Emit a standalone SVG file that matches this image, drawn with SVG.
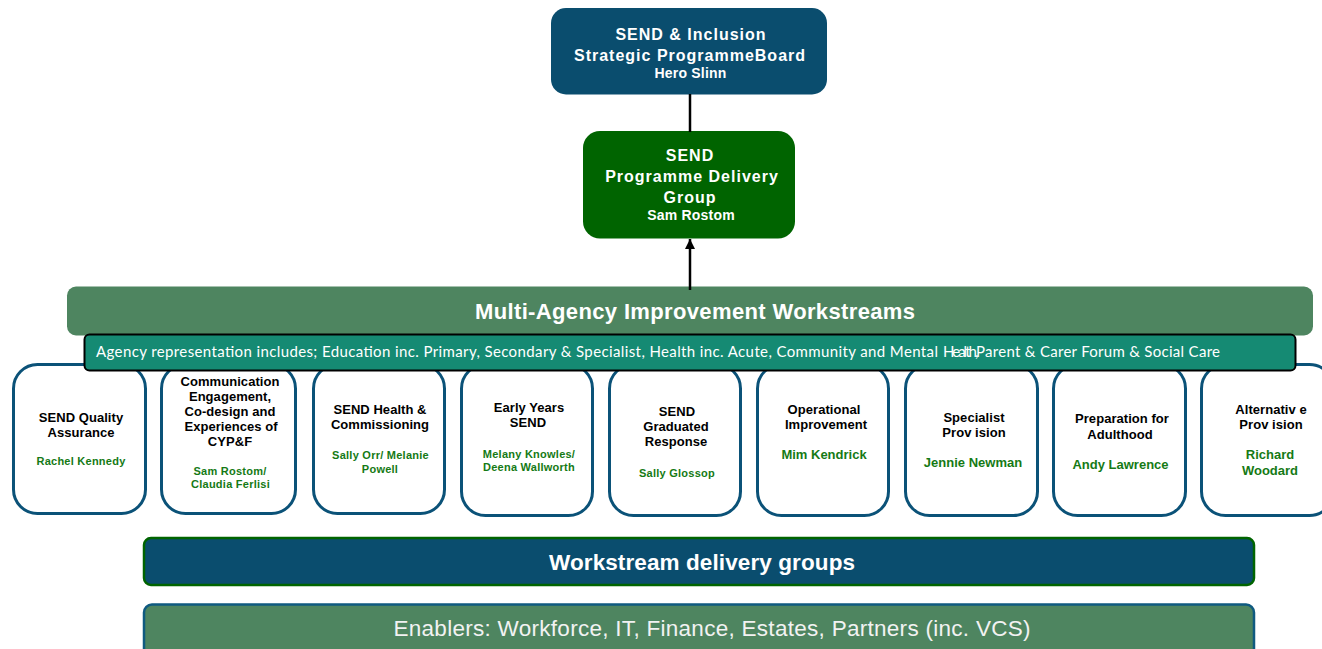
<svg xmlns="http://www.w3.org/2000/svg" width="1322" height="649" viewBox="0 0 1322 649">
<style>
text{font-family:"Liberation Sans",Arial,sans-serif;text-anchor:middle}
.w{fill:#fff;font-weight:700}
.h{font-size:16px;letter-spacing:1px}
.n{font-size:14px;letter-spacing:.2px}
.card{fill:#fff;stroke:#0b5278;stroke-width:3}
.t{fill:#000;font-weight:700;font-size:13px;letter-spacing:.05px}
.g{fill:#157a15;font-weight:700}
.s{font-size:11px;letter-spacing:.25px}
.m{font-size:13px}
.l{stroke:#000;stroke-width:2.5;fill:none}
.a{font-family:Lato,"Noto Sans",sans-serif;text-anchor:start;fill:#fff;font-size:15px}
</style>
<defs><marker id="arrow" markerUnits="userSpaceOnUse" markerWidth="10" markerHeight="10" refX="10" refY="5" orient="auto"><path d="M0 0L10 5L0 10z" fill="#000"/></marker></defs>
<g id="board"><rect x="551" y="8" width="276" height="86.500" rx="15" fill="#0a4d6e"/>
<text class="w h" x="691" y="40">SEND &amp; Inclusion</text>
<text class="w h" x="690" y="61">Strategic ProgrammeBoard</text>
<text class="w n" x="690.500" y="78">Hero Slinn</text></g>
<g id="delivery"><rect x="583" y="131" width="212" height="107.500" rx="17" fill="#006400"/>
<text class="w h" x="690" y="161">SEND</text>
<text class="w h" x="692" y="182">Programme Delivery</text>
<text class="w h" x="690" y="203">Group</text>
<text class="w n" x="691" y="220">Sam Rostom</text></g>
<g id="card1"><rect class="card" x="13.500" y="364.500" width="132" height="149" rx="24"/>
<text class="t" x="81" y="422">SEND Quality</text><text class="t" x="81" y="437">Assurance</text>
<text class="g s" x="81" y="465">Rachel Kennedy</text></g>
<g id="card2"><rect class="card" x="161.500" y="364.500" width="134" height="149" rx="24"/>
<text class="t" x="230" y="386">Communication</text><text class="t" x="230" y="401">Engagement,</text><text class="t" x="230" y="416">Co-design and</text><text class="t" x="231" y="431">Experiences of</text><text class="t" x="230" y="446">CYP&amp;F</text>
<text class="g s" x="230" y="475">Sam Rostom/</text><text class="g s" x="230.500" y="488">Claudia Ferlisi</text></g>
<g id="card3"><rect class="card" x="313.500" y="364.500" width="131" height="149" rx="24"/>
<text class="t" x="380" y="414">SEND Health &amp;</text><text class="t" x="380" y="429">Commissioning</text>
<text class="g s" x="380.500" y="459">Sally Orr/ Melanie</text><text class="g s" x="380" y="473">Powell</text></g>
<g id="card4"><rect class="card" x="461.500" y="364.500" width="131" height="151" rx="24"/>
<text class="t" x="529" y="412">Early Years</text><text class="t" x="528" y="427">SEND</text>
<text class="g s" x="529" y="458">Melany Knowles/</text><text class="g s" x="529" y="471">Deena Wallworth</text></g>
<g id="card5"><rect class="card" x="609.500" y="364.500" width="131" height="151" rx="24"/>
<text class="t" x="677" y="416">SEND</text><text class="t" x="676" y="431">Graduated</text><text class="t" x="676" y="446">Response</text>
<text class="g s" x="677" y="477">Sally Glossop</text></g>
<g id="card6"><rect class="card" x="757.500" y="364.500" width="131" height="151" rx="24"/>
<text class="t" x="824" y="414">Operational</text><text class="t" x="826" y="429">Improvement</text>
<text class="g m" x="824" y="459">Mim Kendrick</text></g>
<g id="card7"><rect class="card" x="905.500" y="364.500" width="132" height="151" rx="24"/>
<text class="t" x="974" y="422">Specialist</text><text class="t" x="974" y="437">Prov ision</text>
<text class="g m" x="973" y="467">Jennie Newman</text></g>
<g id="card8"><rect class="card" x="1053.500" y="364.500" width="132" height="151" rx="24"/>
<text class="t" x="1122" y="423">Preparation for</text><text class="t" x="1120" y="439">Adulthood</text>
<text class="g m" x="1120.500" y="469">Andy Lawrence</text></g>
<g id="card9"><rect class="card" x="1201.500" y="364.500" width="132" height="151" rx="24"/>
<text class="t" x="1271" y="414">Alternativ e</text><text class="t" x="1271" y="429">Prov ision</text>
<text class="g m" x="1270" y="459">Richard</text><text class="g m" x="1270" y="475">Woodard</text></g>
<g id="workstreams"><rect x="67" y="286.500" width="1246" height="49" rx="9" fill="#4e8560"/>
<text class="w" x="695" y="319" font-size="22" textLength="440">Multi-Agency Improvement Workstreams</text></g>
<g id="agency"><rect x="84.500" y="334.500" width="1211" height="36" rx="5" fill="#158a73" stroke="#000" stroke-width="2"/>
<text class="a" y="357"><tspan x="96" textLength="842">Agency representation includes; Education inc. Primary, Secondary &amp; Specialist, Health inc. Acute, Community and Mental</tspan> <tspan x="943" letter-spacing="-2">Health,</tspan> <tspan x="976" textLength="244">Parent &amp; Carer Forum &amp; Social Care</tspan></text></g>
<g id="delivery-groups"><rect x="144" y="538" width="1110" height="47" rx="7" fill="#0a4d6e" stroke="#006400" stroke-width="2.500"/>
<text class="w" x="702" y="570" font-size="22.500" textLength="306">Workstream delivery groups</text></g>
<g id="enablers"><rect x="144" y="604.500" width="1110" height="60" rx="8" fill="#4e8560" stroke="#0f5a80" stroke-width="2.500"/>
<text x="712" y="636" fill="#f2f2f2" font-size="22.500" textLength="637">Enablers: Workforce, IT, Finance, Estates, Partners (inc. VCS)</text></g>
<g id="connectors">
<path class="l" d="M690 94V132"/>
<path class="l" d="M690 290V239" marker-end="url(#arrow)"/>
</g>
</svg>
